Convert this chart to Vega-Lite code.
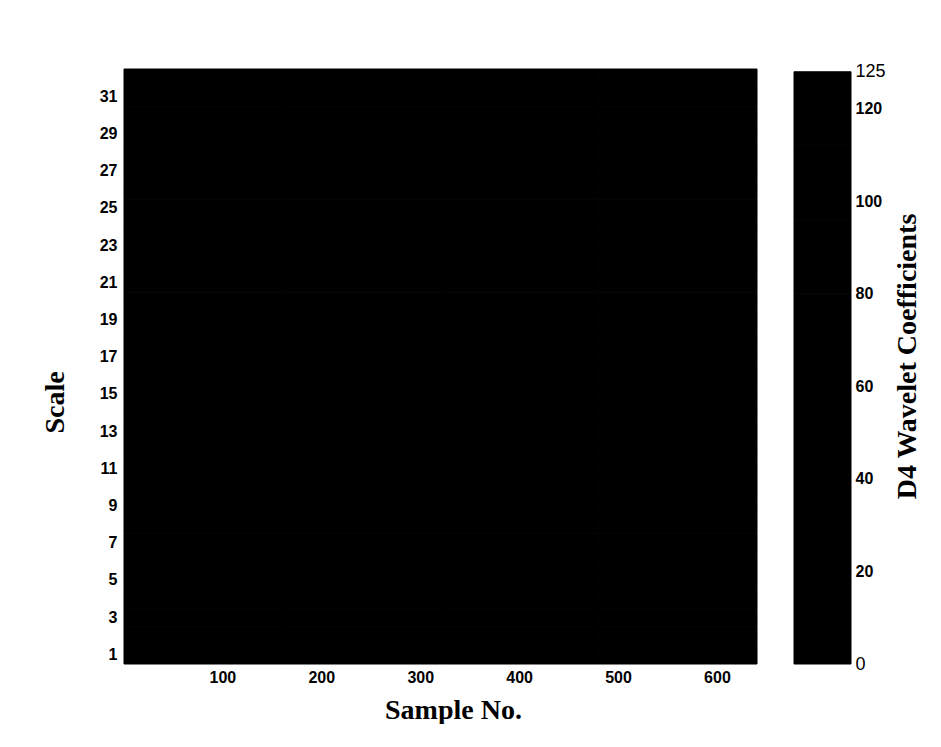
{
  "$schema": "https://vega.github.io/schema/vega-lite/v6.json",
  "padding": {"left": 41, "top": 62, "right": 0, "bottom": 0},
  "background": "white",
  "config": {"view": {"stroke": null}, "concat": {"spacing": 35}},
  "datasets": {
    "cells": [
      {"scale":1,"from":0.5,"to":160.5,"value":0},{"scale":1,"from":160.5,"to":320.5,"value":0},{"scale":1,"from":320.5,"to":480.5,"value":0},{"scale":1,"from":480.5,"to":640.5,"value":0},
      {"scale":2,"from":0.5,"to":160.5,"value":0},{"scale":2,"from":160.5,"to":320.5,"value":0},{"scale":2,"from":320.5,"to":480.5,"value":0},{"scale":2,"from":480.5,"to":640.5,"value":0},
      {"scale":3,"from":0.5,"to":160.5,"value":0},{"scale":3,"from":160.5,"to":320.5,"value":0},{"scale":3,"from":320.5,"to":480.5,"value":0},{"scale":3,"from":480.5,"to":640.5,"value":0},
      {"scale":4,"from":0.5,"to":160.5,"value":0},{"scale":4,"from":160.5,"to":320.5,"value":0},{"scale":4,"from":320.5,"to":480.5,"value":0},{"scale":4,"from":480.5,"to":640.5,"value":0},
      {"scale":5,"from":0.5,"to":160.5,"value":0},{"scale":5,"from":160.5,"to":320.5,"value":0},{"scale":5,"from":320.5,"to":480.5,"value":0},{"scale":5,"from":480.5,"to":640.5,"value":0},
      {"scale":6,"from":0.5,"to":160.5,"value":0},{"scale":6,"from":160.5,"to":320.5,"value":0},{"scale":6,"from":320.5,"to":480.5,"value":0},{"scale":6,"from":480.5,"to":640.5,"value":0},
      {"scale":7,"from":0.5,"to":160.5,"value":0},{"scale":7,"from":160.5,"to":320.5,"value":0},{"scale":7,"from":320.5,"to":480.5,"value":0},{"scale":7,"from":480.5,"to":640.5,"value":0},
      {"scale":8,"from":0.5,"to":160.5,"value":0},{"scale":8,"from":160.5,"to":320.5,"value":0},{"scale":8,"from":320.5,"to":480.5,"value":0},{"scale":8,"from":480.5,"to":640.5,"value":0},
      {"scale":9,"from":0.5,"to":160.5,"value":0},{"scale":9,"from":160.5,"to":320.5,"value":0},{"scale":9,"from":320.5,"to":480.5,"value":0},{"scale":9,"from":480.5,"to":640.5,"value":0},
      {"scale":10,"from":0.5,"to":160.5,"value":0},{"scale":10,"from":160.5,"to":320.5,"value":0},{"scale":10,"from":320.5,"to":480.5,"value":0},{"scale":10,"from":480.5,"to":640.5,"value":0},
      {"scale":11,"from":0.5,"to":160.5,"value":0},{"scale":11,"from":160.5,"to":320.5,"value":0},{"scale":11,"from":320.5,"to":480.5,"value":0},{"scale":11,"from":480.5,"to":640.5,"value":0},
      {"scale":12,"from":0.5,"to":160.5,"value":0},{"scale":12,"from":160.5,"to":320.5,"value":0},{"scale":12,"from":320.5,"to":480.5,"value":0},{"scale":12,"from":480.5,"to":640.5,"value":0},
      {"scale":13,"from":0.5,"to":160.5,"value":0},{"scale":13,"from":160.5,"to":320.5,"value":0},{"scale":13,"from":320.5,"to":480.5,"value":0},{"scale":13,"from":480.5,"to":640.5,"value":0},
      {"scale":14,"from":0.5,"to":160.5,"value":0},{"scale":14,"from":160.5,"to":320.5,"value":0},{"scale":14,"from":320.5,"to":480.5,"value":0},{"scale":14,"from":480.5,"to":640.5,"value":0},
      {"scale":15,"from":0.5,"to":160.5,"value":0},{"scale":15,"from":160.5,"to":320.5,"value":0},{"scale":15,"from":320.5,"to":480.5,"value":0},{"scale":15,"from":480.5,"to":640.5,"value":0},
      {"scale":16,"from":0.5,"to":160.5,"value":0},{"scale":16,"from":160.5,"to":320.5,"value":0},{"scale":16,"from":320.5,"to":480.5,"value":0},{"scale":16,"from":480.5,"to":640.5,"value":0},
      {"scale":17,"from":0.5,"to":160.5,"value":0},{"scale":17,"from":160.5,"to":320.5,"value":0},{"scale":17,"from":320.5,"to":480.5,"value":0},{"scale":17,"from":480.5,"to":640.5,"value":0},
      {"scale":18,"from":0.5,"to":160.5,"value":0},{"scale":18,"from":160.5,"to":320.5,"value":0},{"scale":18,"from":320.5,"to":480.5,"value":0},{"scale":18,"from":480.5,"to":640.5,"value":0},
      {"scale":19,"from":0.5,"to":160.5,"value":0},{"scale":19,"from":160.5,"to":320.5,"value":0},{"scale":19,"from":320.5,"to":480.5,"value":0},{"scale":19,"from":480.5,"to":640.5,"value":0},
      {"scale":20,"from":0.5,"to":160.5,"value":0},{"scale":20,"from":160.5,"to":320.5,"value":0},{"scale":20,"from":320.5,"to":480.5,"value":0},{"scale":20,"from":480.5,"to":640.5,"value":0},
      {"scale":21,"from":0.5,"to":160.5,"value":0},{"scale":21,"from":160.5,"to":320.5,"value":0},{"scale":21,"from":320.5,"to":480.5,"value":0},{"scale":21,"from":480.5,"to":640.5,"value":0},
      {"scale":22,"from":0.5,"to":160.5,"value":0},{"scale":22,"from":160.5,"to":320.5,"value":0},{"scale":22,"from":320.5,"to":480.5,"value":0},{"scale":22,"from":480.5,"to":640.5,"value":0},
      {"scale":23,"from":0.5,"to":160.5,"value":0},{"scale":23,"from":160.5,"to":320.5,"value":0},{"scale":23,"from":320.5,"to":480.5,"value":0},{"scale":23,"from":480.5,"to":640.5,"value":0},
      {"scale":24,"from":0.5,"to":160.5,"value":0},{"scale":24,"from":160.5,"to":320.5,"value":0},{"scale":24,"from":320.5,"to":480.5,"value":0},{"scale":24,"from":480.5,"to":640.5,"value":0},
      {"scale":25,"from":0.5,"to":160.5,"value":0},{"scale":25,"from":160.5,"to":320.5,"value":0},{"scale":25,"from":320.5,"to":480.5,"value":0},{"scale":25,"from":480.5,"to":640.5,"value":0},
      {"scale":26,"from":0.5,"to":160.5,"value":0},{"scale":26,"from":160.5,"to":320.5,"value":0},{"scale":26,"from":320.5,"to":480.5,"value":0},{"scale":26,"from":480.5,"to":640.5,"value":0},
      {"scale":27,"from":0.5,"to":160.5,"value":0},{"scale":27,"from":160.5,"to":320.5,"value":0},{"scale":27,"from":320.5,"to":480.5,"value":0},{"scale":27,"from":480.5,"to":640.5,"value":0},
      {"scale":28,"from":0.5,"to":160.5,"value":0},{"scale":28,"from":160.5,"to":320.5,"value":0},{"scale":28,"from":320.5,"to":480.5,"value":0},{"scale":28,"from":480.5,"to":640.5,"value":0},
      {"scale":29,"from":0.5,"to":160.5,"value":0},{"scale":29,"from":160.5,"to":320.5,"value":0},{"scale":29,"from":320.5,"to":480.5,"value":0},{"scale":29,"from":480.5,"to":640.5,"value":0},
      {"scale":30,"from":0.5,"to":160.5,"value":0},{"scale":30,"from":160.5,"to":320.5,"value":0},{"scale":30,"from":320.5,"to":480.5,"value":0},{"scale":30,"from":480.5,"to":640.5,"value":0},
      {"scale":31,"from":0.5,"to":160.5,"value":0},{"scale":31,"from":160.5,"to":320.5,"value":0},{"scale":31,"from":320.5,"to":480.5,"value":0},{"scale":31,"from":480.5,"to":640.5,"value":0},
      {"scale":32,"from":0.5,"to":160.5,"value":0},{"scale":32,"from":160.5,"to":320.5,"value":0},{"scale":32,"from":320.5,"to":480.5,"value":0},{"scale":32,"from":480.5,"to":640.5,"value":0}
    ],
    "bar": [
      {"v0":0,"v1":16},{"v0":16,"v1":32},{"v0":32,"v1":48},{"v0":48,"v1":64},
      {"v0":64,"v1":80},{"v0":80,"v1":96},{"v0":96,"v1":112},{"v0":112,"v1":128}
    ]
  },
  "hconcat": [
    {
      "width": 633,
      "height": 595,
      "data": {"name": "cells"},
      "mark": {"type": "rect", "stroke": "#000000", "strokeWidth": 1},
      "encoding": {
        "x": {
          "field": "from", "type": "quantitative",
          "scale": {"domain": [0.5, 640.5], "nice": false, "zero": false},
          "axis": {
            "values": [100, 200, 300, 400, 500, 600],
            "title": "Sample No.",
            "grid": false, "domain": false, "ticks": false,
            "labelPadding": 5, "labelFont": "Liberation Sans", "labelFontWeight": "bold", "labelFontSize": 16, "labelColor": "#000000",
            "titleFont": "Liberation Serif", "titleFontSize": 28, "titleFontWeight": "bold", "titleColor": "#000000",
            "titlePadding": 11, "titleX": 329
          }
        },
        "x2": {"field": "to"},
        "y": {
          "field": "scale", "type": "ordinal", "sort": "descending",
          "scale": {"paddingInner": 0, "paddingOuter": 0},
          "axis": {
            "values": [1, 3, 5, 7, 9, 11, 13, 15, 17, 19, 21, 23, 25, 27, 29, 31],
            "title": "Scale",
            "grid": false, "domain": false, "ticks": false,
            "labelPadding": 7, "labelFont": "Liberation Sans", "labelFontWeight": "bold", "labelFontSize": 16, "labelColor": "#000000",
            "titleFont": "Liberation Serif", "titleFontSize": 28, "titleFontWeight": "bold", "titleColor": "#000000",
            "titlePadding": 30, "titleY": 333
          }
        },
        "color": {
          "field": "value", "type": "quantitative",
          "scale": {"domain": [0, 128], "range": ["#000000", "#000000"]},
          "legend": null
        }
      }
    },
    {
      "width": 57,
      "height": 595,
      "data": {"name": "bar"},
      "mark": {"type": "rect", "stroke": "#000000", "strokeWidth": 1},
      "encoding": {
        "y": {
          "field": "v0", "type": "quantitative",
          "scale": {"domain": [0, 128.6], "nice": false, "zero": false},
          "axis": {
            "orient": "right",
            "values": [0, 20, 40, 60, 80, 100, 120, 128],
            "labelExpr": "datum.value == 128 ? '125' : datum.label",
            "title": "D4 Wavelet Coefficients",
            "grid": false, "domain": false, "ticks": false,
            "labelPadding": 4, "labelFont": "Liberation Sans", "labelColor": "#000000",
            "labelFontWeight": {"condition": {"test": "datum.value == 0 || datum.value == 128", "value": "normal"}, "value": "bold"},
            "labelFontSize": {"condition": {"test": "datum.value == 0 || datum.value == 128", "value": 18}, "value": 16},
            "titleFont": "Liberation Serif", "titleFontSize": 28, "titleFontWeight": "bold", "titleColor": "#000000",
            "titleAngle": 270, "titleBaseline": "top", "titlePadding": 8, "titleY": 287
          }
        },
        "y2": {"field": "v1"},
        "color": {"field": "v0", "type": "quantitative", "legend": null}
      }
    }
  ]
}
